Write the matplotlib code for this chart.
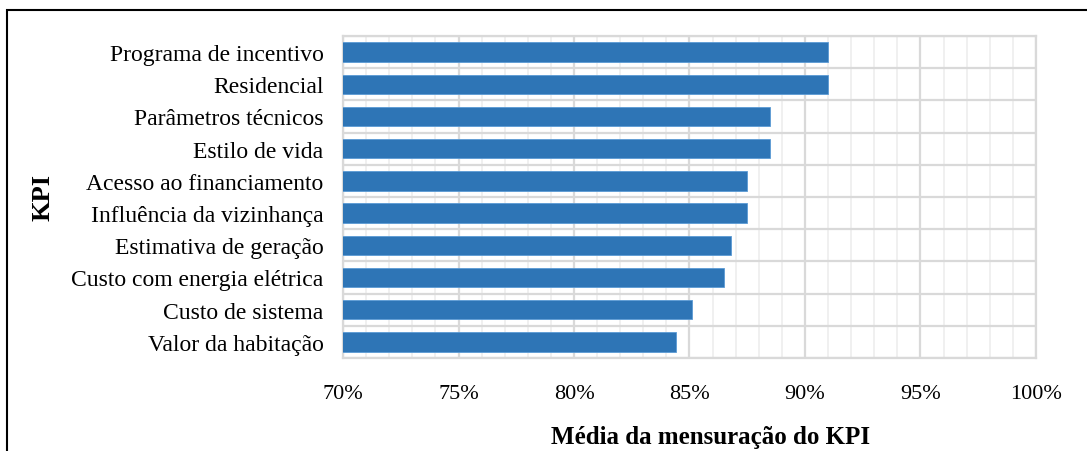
import numpy as np
import matplotlib.pyplot as plt
from matplotlib.patches import Rectangle
from matplotlib.ticker import MultipleLocator, FuncFormatter

# KPI averages (fraction), listed top to bottom
kpis = [
    "Programa de incentivo",
    "Residencial",
    "Parâmetros técnicos",
    "Estilo de vida",
    "Acesso ao financiamento",
    "Influência da vizinhança",
    "Estimativa de geração",
    "Custo com energia elétrica",
    "Custo de sistema",
    "Valor da habitação",
]
medias = [0.910, 0.910, 0.885, 0.885, 0.875, 0.875, 0.868, 0.865, 0.851, 0.844]

plt.rcParams['font.family'] = ['Liberation Serif', 'DejaVu Serif']

fig = plt.figure(figsize=(10.87, 4.52), dpi=100)
ax = fig.add_axes([0.3156, 0.2058, 0.6374, 0.7124])

y = np.arange(len(kpis))[::-1]
ax.barh(y, medias, height=0.6, left=0, color='#2E75B6', edgecolor='#5B9BD5',
        linewidth=0.6, zorder=3)

ax.set_xlim(0.70, 1.00)
ax.set_ylim(-0.5, len(kpis) - 0.5)
ax.set_yticks(y)
ax.set_yticklabels(kpis, fontsize=17)
ax.xaxis.set_major_locator(MultipleLocator(0.05))
ax.xaxis.set_minor_locator(MultipleLocator(0.01))
ax.xaxis.set_major_formatter(FuncFormatter(lambda v, p: f"{v * 100:.0f}%"))
ax.tick_params(axis='x', labelsize=16, length=0, pad=18.5)
ax.tick_params(axis='y', length=0, pad=14)
ax.tick_params(which='minor', length=0)

# vertical grid: light every 1%, darker every 5%
ax.grid(axis='x', which='major', color='#D9D9D9', linewidth=1.6, zorder=0)
ax.grid(axis='x', which='minor', color='#EDEDED', linewidth=1.2, zorder=0)
# horizontal lines between categories
ax.set_yticks(np.arange(-0.5, len(kpis)), minor=True)
ax.grid(axis='y', which='minor', color='#D9D9D9', linewidth=1.6, zorder=0)

for side in ['top', 'right', 'bottom', 'left']:
    ax.spines[side].set_color('#D9D9D9')
    ax.spines[side].set_linewidth(1.6)

ax.set_xlabel("Média da mensuração do KPI", fontsize=18, fontweight='bold', va='center')
ax.xaxis.set_label_coords(0.53, -0.245)
ax.set_ylabel("KPI", fontsize=19, fontweight='bold', va='center')
ax.yaxis.set_label_coords(-0.433, 0.503)

# outer frame around the chart
fig.patches.append(Rectangle((7 / 1087, -0.1), 1.2, 1 - 11 / 452 + 0.1,
                             transform=fig.transFigure, fill=False,
                             edgecolor='black', linewidth=1.5))

fig.savefig("out.png", dpi=100)
